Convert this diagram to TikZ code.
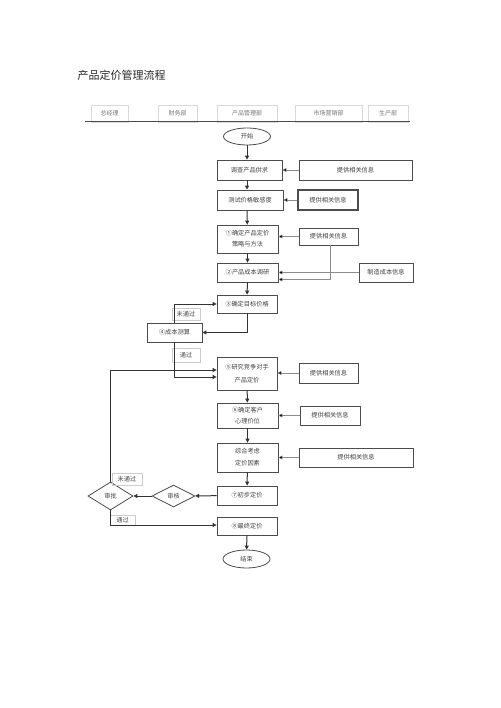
\documentclass[tikz,border=0pt]{standalone}
\usepackage{fontspec}
\setmainfont{Noto Sans CJK SC}
\usetikzlibrary{shapes.geometric,arrows.meta}
\begin{document}
\begin{tikzpicture}[x=1pt,y=-1pt,
  every node/.style={font=\fontsize{6.2}{8}\selectfont, text=black!75},
  box/.style={draw=black!70, line width=0.8pt, inner sep=0pt, align=center},
  sbox/.style={draw=black!70, line width=0.8pt, inner sep=0pt, align=center},
  hcell/.style={draw=black!15, line width=0.4pt, inner sep=0pt, text=black!55, font=\fontsize{6}{7}\selectfont},
  lab/.style={draw=black!20, line width=0.4pt, inner sep=0pt, text=black!70},
  flow/.style={draw=black!80, line width=1pt, -{Triangle[length=4pt,width=4pt]}},
  info/.style={draw=black!45, line width=0.5pt, -{Triangle[length=4pt,width=4pt,fill=black]}},
  term/.style={ellipse, draw=black!70, line width=0.8pt, inner sep=0pt, minimum width=47, minimum height=17},
  dia/.style={diamond, draw=black!70, line width=0.8pt, inner sep=0pt}
]
\useasboundingbox (0,0) rectangle (500,708);
% title
\node[anchor=west, font=\fontsize{11}{13}\selectfont, text=black!85] (title) at (74,75) {产品定价管理流程};
% header
\node[hcell, minimum width=37, minimum height=17] (h1) at (109.5,113.5) {总经理};
\node[hcell, minimum width=39, minimum height=17] (h2) at (177.5,113.5) {财务部};
\node[hcell, minimum width=60, minimum height=17] (h3) at (247,113.5) {产品管理部};
\node[hcell, minimum width=67, minimum height=17] (h4) at (328.5,113.5) {市场营销部};
\node[hcell, minimum width=40, minimum height=17] (h5) at (388,113.5) {生产部};
\coordinate (hl) at (85,122);
\coordinate (hr) at (410,122);
\draw[black!70, line width=1pt] (hl) -- (hr);
% main column
\node[term] (start) at (247,136.5) {开始};
\node[box, minimum width=65, minimum height=20] (b1) at (249.5,170) {调查产品供求};
\node[box, minimum width=66, minimum height=20] (b2) at (250,200) {测试价格敏感度};
\node[box, minimum width=61, minimum height=28] (b3) at (247.5,239) {①确定产品定价\\[3pt]策略与方法};
\node[box, minimum width=61, minimum height=19] (b4) at (247.5,272.5) {②产品成本调研};
\node[box, minimum width=60, minimum height=18] (b5) at (247,304) {③确定目标价格};
\node[box, minimum width=55, minimum height=19] (b6) at (174.5,332.5) {④成本测算};
\node[box, minimum width=60, minimum height=33] (b7) at (247,373.5) {⑤研究竞争对手\\[5pt]产品定价};
\node[box, minimum width=61, minimum height=25] (b8) at (247.5,415.5) {⑥确定客户\\[3pt]心理价位};
\node[box, minimum width=61, minimum height=29] (b9) at (247.5,457.5) {综合考虑\\[4pt]定价因素};
\node[box, minimum width=60, minimum height=19] (b10) at (247,495.5) {⑦初步定价};
\node[dia, minimum width=43, minimum height=22] (d1) at (173.5,496) {审核};
\node[dia, minimum width=45, minimum height=28] (d2) at (110.5,496) {审批};
\node[box, minimum width=60, minimum height=18] (b11) at (247,526) {⑧最终定价};
\node[term, minimum height=18] (end) at (246.5,559) {结束};
% right info boxes
\node[box, minimum width=113, minimum height=20] (r1) at (355.5,170) {提供相关信息};
\node[box, line width=1.2pt, minimum width=60, minimum height=20] (r2) at (328,200) {提供相关信息};
\node[box, minimum width=59, minimum height=17] (r3) at (328.5,236.5) {提供相关信息};
\node[box, minimum width=54, minimum height=19] (r4) at (386,272.5) {制造成本信息};
\node[box, minimum width=59, minimum height=20] (r5) at (328.5,373) {提供相关信息};
\node[box, minimum width=60, minimum height=19] (r6) at (330,415.5) {提供相关信息};
\node[box, minimum width=114, minimum height=19] (r7) at (356,457.5) {提供相关信息};
% labels
\node[lab, minimum width=28, minimum height=12] (l1) at (186,314) {未通过};
\node[lab, minimum width=28, minimum height=14] (l2) at (186,355) {通过};
\node[lab, minimum width=30, minimum height=12] (l3) at (127,479) {未通过};
\node[lab, minimum width=25, minimum height=10] (l4) at (122.5,520) {通过};
% main flow
\draw[flow] (start) -- (b1.north -| start);
\draw[flow] (b1.south -| start) -- (b2.north -| start);
\draw[flow] (b2.south -| start) -- (b3);
\draw[flow] (b3) -- (b4);
\draw[flow] (b4) -- (b5);
\draw[flow] (b5.south) |- (b6.east);
\draw[flow] (b6.north) |- (b5.west);
\draw[flow] (b6.south) |- ([yshift=-3.5pt]b7.west);
\draw[flow] (b7) -- (b8);
\draw[flow] (b8) -- (b9);
\draw[flow] (b9) -- (b10);
\draw[flow] (b10) -- (d1);
\draw[flow] (d1) -- (d2);
\draw[flow] (d2.north) |- ([yshift=3.5pt]b7.west);
\draw[flow] (d2.south) |- ([yshift=1pt]b11.west);
\draw[flow] (b11) -- (end);
% info arrows
\draw[info] (r1) -- (b1);
\draw[info] (r2) -- (b2);
\draw[info] (r3) -- (r3 -| b3.east);
\draw[info] ([xshift=1.5pt]r3.south) |- ([yshift=-7pt]b4.east);
\draw[info] (r4) -- (b4);
\draw[info] (r5) -- (r5 -| b7.east);
\draw[info] (r6) -- (b8);
\draw[info] (r7) -- (b9);
\end{tikzpicture}
\end{document}
